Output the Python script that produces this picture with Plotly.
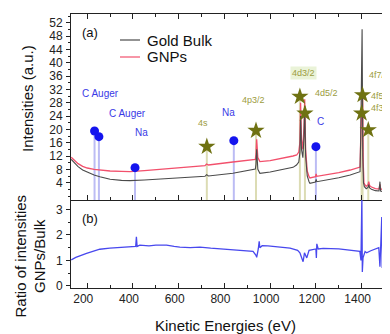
import plotly.graph_objects as go
from plotly.subplots import make_subplots

# ---------------- data ----------------
# Gold bulk spectrum (kinetic energy eV, intensity a.u.)
bulk_ev = [130, 145, 160, 180, 200, 230, 255, 300, 350, 387, 450, 550, 650, 715, 722, 730,
           837, 900, 935, 938, 941, 946, 955, 1000, 1050, 1100, 1115, 1125, 1130, 1133, 1137,
           1143, 1148, 1151, 1155, 1162, 1170, 1174, 1198, 1201, 1204, 1250, 1300, 1350, 1393,
           1396, 1399, 1402, 1405, 1408, 1412, 1420, 1428, 1431, 1435, 1443, 1460, 1476, 1480,
           1483, 1495, 1510]
bulk_val = [11.0, 9.8, 8.8, 7.8, 7.1, 6.3, 5.8, 5.0, 4.7, 4.6, 4.8, 5.2, 5.6, 5.9, 6.4, 6.0,
            6.8, 7.5, 8.1, 9.5, 14.0, 8.0, 6.8, 7.2, 7.8, 8.6, 9.3, 10.2, 13.0, 24.0, 14.0,
            11.5, 18.0, 27.0, 12.0, 6.0, 4.3, 3.8, 4.2, 5.0, 4.3, 4.8, 5.5, 6.3, 7.3,
            18.0, 35.0, 50.0, 12.0, 4.0, 2.8, 2.2, 2.6, 3.4, 2.4, 2.0, 1.6, 1.5, 4.3,
            1.5, 1.2, 1.1]

# GNPs spectrum
gnp_ev = [130, 145, 160, 180, 200, 230, 255, 300, 350, 387, 450, 550, 650, 715, 722, 730,
          837, 900, 935, 938, 941, 946, 955, 1000, 1050, 1100, 1116, 1125, 1130, 1133, 1137,
          1143, 1148, 1151, 1155, 1162, 1170, 1174, 1198, 1201, 1204, 1250, 1300, 1350, 1393,
          1397, 1400, 1404, 1407, 1410, 1414, 1420, 1428, 1431, 1435, 1443, 1460, 1476, 1480,
          1483, 1495, 1510]
gnp_val = [11.6, 10.6, 9.7, 8.9, 8.4, 8.0, 7.8, 7.5, 7.4, 7.3, 7.6, 8.1, 8.7, 9.1, 9.6, 9.3,
           10.2, 10.8, 11.0, 12.5, 17.0, 11.5, 10.3, 10.6, 11.2, 12.0, 12.3, 13.2, 16.0, 28.0, 17.0,
           14.0, 21.0, 29.0, 14.0, 7.5, 5.8, 5.4, 5.8, 6.6, 5.9, 6.4, 7.0, 7.8, 8.7,
           20.0, 26.0, 31.0, 10.0, 4.0, 3.4, 2.9, 3.4, 4.3, 3.1, 2.7, 2.2, 2.1, 3.5,
           2.2, 1.7, 1.5]

# Ratio GNPs / Bulk
ratio_ev = [130, 150, 197, 230, 255, 299, 350, 401, 412, 415, 418, 430, 470, 500, 547, 580,
            605, 650, 693, 740, 795, 850, 900, 925, 938, 941, 948, 952, 955, 965, 990, 1040,
            1087, 1120, 1130, 1140, 1144, 1150, 1160, 1170, 1200, 1202, 1204, 1210, 1232, 1300,
            1378, 1392, 1397, 1401, 1403, 1406, 1415, 1422, 1440, 1460, 1475, 1480, 1484, 1488,
            1490]
ratio_val = [1.02, 1.12, 1.28, 1.37, 1.44, 1.48, 1.52, 1.54, 1.55, 1.93, 1.55, 1.60, 1.57, 1.60, 1.60, 1.55,
             1.52, 1.50, 1.52, 1.48, 1.45, 1.42, 1.40, 1.36, 1.20, 1.12, 1.45, 1.75, 1.50, 1.58, 1.57, 1.52,
             1.48, 1.40, 1.30, 1.05, 0.95, 1.30, 1.10, 1.40, 1.45, 1.10, 1.65, 1.45, 1.47, 1.45,
             1.38, 1.36, 1.00, 3.50, 0.55, 1.10, 1.35, 1.30, 1.38, 1.45, 1.50, 0.75, 1.55, 2.70,
             0.70]

# Reference peaks: contaminants (blue circles)
cont_ev = [232, 251, 409, 841, 1200]
cont_val = [19.5, 17.8, 8.5, 16.6, 14.8]
cont_labels = ["C Auger", "C Auger", "Na", "Na", "C"]

# Reference peaks: gold lines (stars)
gold_ev = [723, 938, 1130, 1152, 1404, 1400, 1429]
gold_val = [14.8, 19.6, 29.8, 24.8, 30.3, 24.8, 19.8]
gold_labels = ["4s", "4p3/2", "4d3/2", "4d5/2", "4f7/2", "4f5/2", "4f3/2"]

series_names = ["Gold Bulk", "GNPs"]
x_ticks = [200, 400, 600, 800, 1000, 1200, 1400]
y_ticks_top = [4, 8, 12, 16, 20, 24, 28, 32, 36, 40, 44, 48, 52]
y_ticks_bot = [0, 1, 2, 3]

# ---------------- figure ----------------
FONT = "Arial, Liberation Sans, sans-serif"
Y0 = -1.2
X_RANGE = [129, 1524]
C_BULK = "#4a4a4a"
C_GNP = "#f2506c"

# figure geometry (figure sits 8px in from the page corner)
W, H = 382, 326
ML, MR, MT, MB = 63, 0, 6, 46
PW, PH = W - ML - MR, H - MT - MB


def px(xp):   # page x -> paper x
    return (xp - 8 - ML) / PW


def py(yp):   # page y -> paper y
    return (H - MB - (yp - 8)) / PH


fig = make_subplots(rows=2, cols=1, shared_xaxes=True, vertical_spacing=0,
                    row_heights=[186, 88])


def drops(evs, vals):
    xs, ys = [], []
    for e, v in zip(evs, vals):
        xs += [e, e, None]
        ys += [Y0, v, None]
    return xs, ys


dx, dy = drops(gold_ev, gold_val)
fig.add_trace(go.Scatter(x=dx, y=dy, mode="lines", line=dict(color="#dcdcb4", width=2),
                         showlegend=False, hoverinfo="skip"), row=1, col=1)
dx, dy = drops(cont_ev, cont_val)
fig.add_trace(go.Scatter(x=dx, y=dy, mode="lines", line=dict(color="#bcbcf4", width=2),
                         showlegend=False, hoverinfo="skip"), row=1, col=1)

fig.add_trace(go.Scatter(x=gnp_ev, y=gnp_val, mode="lines", name=series_names[1], showlegend=False,
                         line=dict(color=C_GNP, width=1.3)), row=1, col=1)
fig.add_trace(go.Scatter(x=bulk_ev, y=bulk_val, mode="lines", name=series_names[0], showlegend=False,
                         line=dict(color=C_BULK, width=1.1)), row=1, col=1)

fig.add_trace(go.Scatter(x=gold_ev, y=gold_val, mode="markers", showlegend=False,
                         marker=dict(symbol="star", size=13, color="#6f7212")), row=1, col=1)
fig.add_trace(go.Scatter(x=cont_ev, y=cont_val, mode="markers", showlegend=False,
                         marker=dict(symbol="circle", size=9, color="#1414ee")), row=1, col=1)

fig.add_trace(go.Scatter(x=ratio_ev, y=ratio_val, mode="lines", showlegend=False,
                         line=dict(color="#4848ee", width=1.3)), row=2, col=1)

# peak labels (text positions in data units)
blue_pos = [(168, 30.9), (287, 24.9), (398, 19.2), (781, 25.2), (1195, 22.3)]
for t, (x, y) in zip(cont_labels, blue_pos):
    fig.add_annotation(x=x, y=y, xref="x", yref="y", text=t, showarrow=False,
                       xanchor="left", yanchor="middle",
                       font=dict(family=FONT, size=10, color="#3a3ae6"))
olive_pos = [(675, 22.0), (868, 28.8), (1086, 36.9), (1187, 30.9), (1425, 36.3),
             (1432, 30.0), (1432, 26.4)]
for t, (x, y) in zip(gold_labels, olive_pos):
    fig.add_annotation(x=x, y=y, xref="x", yref="y", text=t, showarrow=False,
                       xanchor="left", yanchor="middle",
                       font=dict(family=FONT, size=9, color="#9c9c40"),
                       bgcolor="rgba(225,238,200,0.7)" if t == "4d3/2" else None)

# panel labels
fig.add_annotation(x=px(80), y=py(32), xref="paper", yref="paper", text="(a)", showarrow=False,
                   xanchor="left", yanchor="middle", font=dict(family=FONT, size=13, color="#111"))
fig.add_annotation(x=px(80), y=py(219), xref="paper", yref="paper", text="(b)", showarrow=False,
                   xanchor="left", yanchor="middle", font=dict(family=FONT, size=13, color="#111"))

# axis titles
fig.add_annotation(x=px(27), y=py(99), xref="paper", yref="paper", text="Intensities (a.u.)",
                   showarrow=False, textangle=-90, xanchor="center", yanchor="middle",
                   font=dict(family=FONT, size=15, color="#111"))
fig.add_annotation(x=px(29.5), y=py(256), xref="paper", yref="paper",
                   text="Ratio of intensities<br>GNPs/Bulk", showarrow=False, textangle=-90,
                   xanchor="center", yanchor="middle",
                   font=dict(family=FONT, size=15, color="#111"))
fig.add_annotation(x=px(225), y=py(325), xref="paper", yref="paper", text="Kinetic Energies (eV)",
                   showarrow=False, xanchor="center", yanchor="middle",
                   font=dict(family=FONT, size=15, color="#111"))

# manual legend
for name, col, ly in [(series_names[0], C_BULK, 40), (series_names[1], C_GNP, 57)]:
    fig.add_shape(type="line", xref="paper", yref="paper", x0=px(120), x1=px(140),
                  y0=py(ly), y1=py(ly), line=dict(color=col, width=1.2))
    fig.add_annotation(x=px(145), y=py(ly), xref="paper", yref="paper", text=name,
                       showarrow=False, xanchor="left", yanchor="middle",
                       font=dict(family=FONT, size=15, color="#111"))

axis_common = dict(showline=True, linecolor="#222", linewidth=1, showgrid=False, zeroline=False,
                   automargin=False, tickfont=dict(family=FONT, size=12, color="#222"))
fig.update_xaxes(range=X_RANGE, tickvals=x_ticks, ticks="inside", ticklen=5, tickcolor="#222",
                 minor=dict(dtick=100, tick0=0, ticks="inside", ticklen=3, tickcolor="#222"),
                 **axis_common)
fig.update_xaxes(mirror="ticks", row=1, col=1)
fig.update_xaxes(ticklabelshift=-4, row=2, col=1)
fig.update_yaxes(range=[Y0, 54.6], tickvals=y_ticks_top, ticks="outside", ticklen=4,
                 tickcolor="#222", ticklabelstandoff=1,
                 minor=dict(dtick=2, tick0=0, ticks="outside", ticklen=2, tickcolor="#222"),
                 **axis_common, row=1, col=1)
fig.update_yaxes(range=[-0.08, 3.37], tickvals=y_ticks_bot, ticks="outside", ticklen=4,
                 tickcolor="#222", ticklabelstandoff=1,
                 minor=dict(dtick=0.5, tick0=0, ticks="outside", ticklen=2, tickcolor="#222"),
                 **axis_common, row=2, col=1)

fig.update_layout(width=W, height=H, margin=dict(l=ML, r=MR, t=MT, b=MB),
                  paper_bgcolor="white", plot_bgcolor="white",
                  font=dict(family=FONT), showlegend=False)

fig.write_html("out.html")
